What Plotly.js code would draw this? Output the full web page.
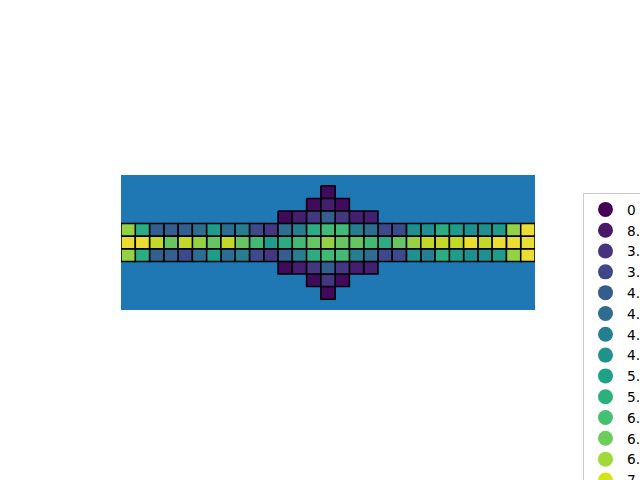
<!DOCTYPE html>
<html>
<head>
<meta charset="utf-8">
<script src="https://cdn.plot.ly/plotly-3.0.1.min.js"></script>
<style>html,body{margin:0;padding:0;background:#fff;}</style>
</head>
<body>
<div id="chart" style="width:640px;height:480px;"></div>
<script>
// Legend labels (one per distinct value, ascending)
const levelLabels = ["0", "8.66e-01", "3.16", "3.61", "4.00", "4.24", "4.58", "4.90",
                     "5.20", "5.57", "6.00", "6.32", "6.71", "7.07", "7.48"];

// First column of each row (rows top to bottom)
const rowStart = [14, 13, 11, 0, 0, 0, 11, 13, 14];

// Cell values per row, as index into levelLabels
const row0 = [0];
const row1 = [0, 1, 0];
const row2 = [0, 1, 2, 4, 2, 1, 1];
const row3 = [12, 9, 4, 4, 4, 5, 8, 5, 6, 3, 2, 5, 6, 9, 10, 10, 6, 5, 3, 3, 7, 7, 9, 8, 7, 7, 8, 12, 14];
const row4 = [14, 14, 13, 11, 13, 12, 11, 13, 11, 10, 8, 9, 10, 11, 12, 11, 11, 10, 9, 11, 12, 13, 13, 13, 14, 13, 14, 14, 14];
const row5 = [12, 9, 4, 4, 3, 5, 8, 5, 6, 3, 2, 4, 6, 9, 10, 10, 6, 5, 3, 3, 7, 6, 9, 8, 7, 7, 8, 12, 14];
const row6 = [0, 1, 2, 4, 2, 1, 1];
const row7 = [0, 2, 0];
const row8 = [0];
const rows = [row0, row1, row2, row3, row4, row5, row6, row7, row8];

// viridis sampled at 15 evenly spaced points
const palette = ["#440154", "#481769", "#46327e", "#3f4788", "#365c8d", "#2e6d8e", "#277f8e",
                 "#21918c", "#1fa187", "#2cb17e", "#45bf70", "#6ccd5a", "#9fda3a", "#d2e21b", "#fde725"];

function hexToRgba(h, a) {
  const r = parseInt(h.slice(1, 3), 16), g = parseInt(h.slice(3, 5), 16), b = parseInt(h.slice(5, 7), 16);
  return `rgba(${r},${g},${b},${a})`;
}

const traces = [];
levelLabels.forEach((lab, lv) => {
  const xs = [], ys = [];
  rows.forEach((row, r) => {
    row.forEach((v, k) => {
      if (v !== lv) return;
      const c = rowStart[r] + k;
      xs.push(c - 0.5, c + 0.5, c + 0.5, c - 0.5, c - 0.5, null);
      ys.push(r - 0.5, r - 0.5, r + 0.5, r + 0.5, r - 0.5, null);
    });
  });
  traces.push({
    type: "scatter", mode: "lines", x: xs, y: ys,
    fill: "toself", fillcolor: hexToRgba(palette[lv], 0.92),
    line: {color: "black", width: 1.5},
    hoverinfo: "skip", showlegend: false
  });
});
levelLabels.forEach((lab, lv) => {
  traces.push({
    type: "scatter", mode: "markers", x: [null], y: [null], name: lab,
    marker: {symbol: "circle", size: 15, color: palette[lv]},
    showlegend: true
  });
});

const layout = {
  width: 640, height: 480,
  margin: {l: 121, r: 105, t: 175, b: 170, autoexpand: false},
  paper_bgcolor: "white",
  plot_bgcolor: "#1f77b4",
  xaxis: {range: [-0.5, 28.5], visible: false, fixedrange: true},
  yaxis: {range: [9.36, -1.36], visible: false, fixedrange: true},
  showlegend: true,
  legend: {
    x: (583 - 121) / 414, xanchor: "left",
    y: (310 - 193) / 135, yanchor: "top",
    font: {family: "DejaVu Sans", size: 13.7, color: "black"},
    bgcolor: "white", bordercolor: "#cccccc", borderwidth: 1,
    tracegroupgap: 0, maxheight: 1000, itemwidth: 33
  },
  font: {family: "DejaVu Sans"}
};

Plotly.newPlot("chart", traces, layout, {displayModeBar: false, staticPlot: true});
</script>
</body>
</html>
